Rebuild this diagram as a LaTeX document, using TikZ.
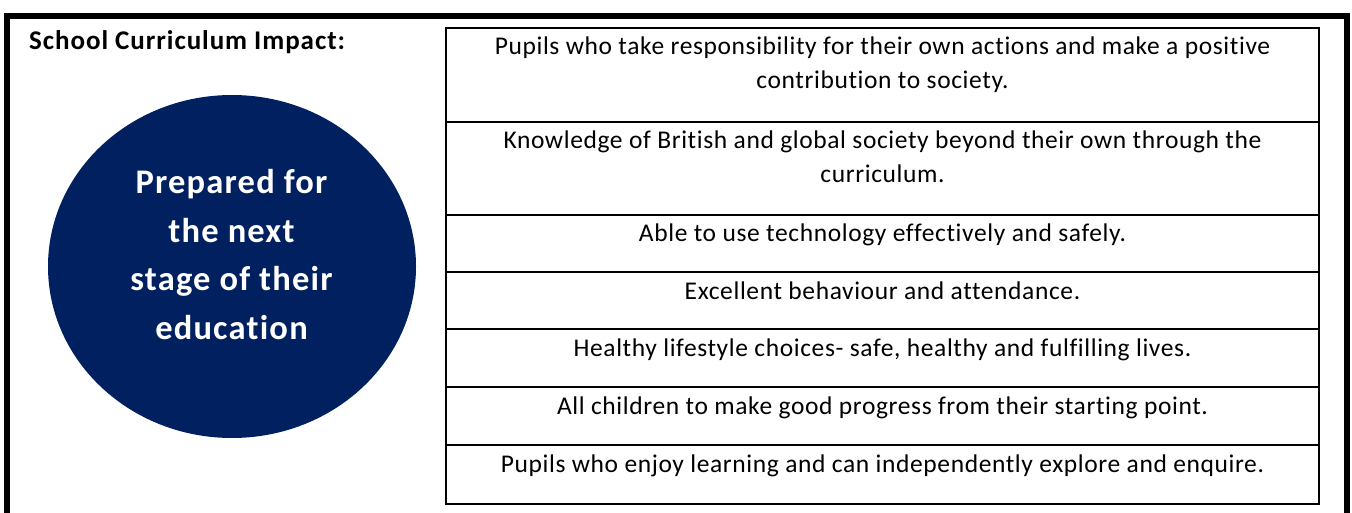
\documentclass[tikz,border=0pt]{standalone}
\usepackage{fontspec}
\setmainfont{Carlito}[Ligatures=NoCommon]
\newfontfamily\bodyfont{Carlito}[Ligatures=NoCommon,LetterSpace=2.4]
\newfontfamily\headfont{Carlito}[Ligatures=NoCommon,LetterSpace=3.5]
\definecolor{navy}{HTML}{002060}
\begin{document}
\begin{tikzpicture}[x=1pt,y=-1pt,
  cellline/.style={draw=black,line width=2pt},
  celltext/.style={anchor=north,inner sep=0pt,align=center,font=\bodyfont\fontsize{25.5}{34}\selectfont},
  circtext/.style={anchor=north,inner sep=0pt,align=center,text=white,font=\headfont\fontsize{34.5}{48.5}\selectfont\bfseries}]
\useasboundingbox (0,0) rectangle (1352,513);
\clip (0,0) rectangle (1352,513);
% outer frame
\draw[line width=6pt] (7,540) -- (7,16) -- (1346.5,16) -- (1346.5,540);
% title
\node[anchor=base west,inner sep=0pt,font=\headfont\fontsize{27}{30}\selectfont\bfseries] (title) at (29,50) {School Curriculum Impact:};
% circle
\fill[navy] (232,266.5) ellipse [x radius=184, y radius=171.5];
\node[circtext] (circ) at (231.5,159.5) {\strut Prepared for\\the next\\stage of their\\education};
% table
\draw[cellline] (446,28) rectangle (1319,504);
\foreach \yy in {122,215,272,329,387,445} \draw[cellline] (446,\yy) -- (1319,\yy);
\node[celltext] (r1) at (882.5,31) {\strut Pupils who take responsibility for their own actions and make a positive\\contribution to society.};
\node[celltext] (r2) at (882.5,125) {\strut Knowledge of British and global society beyond their own through the\\curriculum.};
\node[celltext] (r3) at (882.5,218) {\strut Able to use technology effectively and safely.};
\node[celltext] (r4) at (882.5,275) {\strut Excellent behaviour and attendance.};
\node[celltext] (r5) at (882.5,332) {\strut Healthy lifestyle choices- safe, healthy and fulfilling lives.};
\node[celltext] (r6) at (882.5,390) {\strut All children to make good progress from their starting point.};
\node[celltext] (r7) at (882.5,448) {\strut Pupils who enjoy learning and can independently explore and enquire.};
\end{tikzpicture}
\end{document}
